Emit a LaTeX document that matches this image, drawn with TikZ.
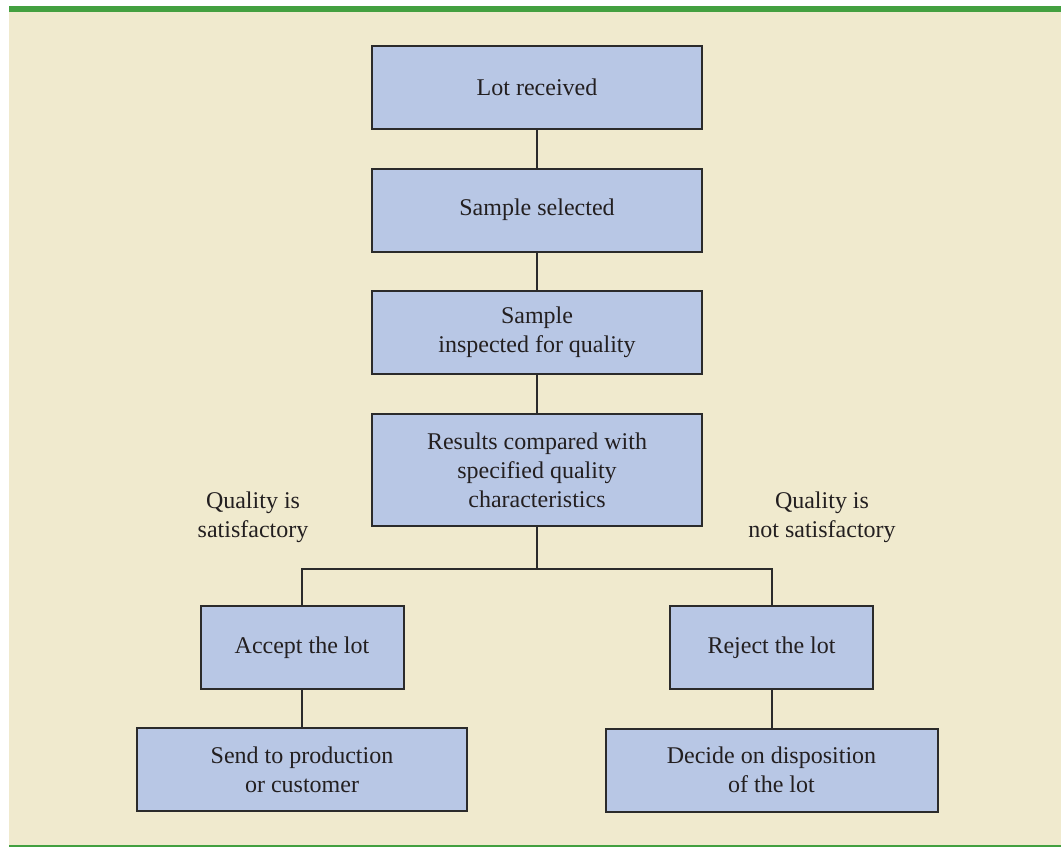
\documentclass[tikz,border=0pt]{standalone}
\usepackage{fontspec}
\setmainfont{Liberation Serif}
\definecolor{bgbeige}{HTML}{F0EACE}
\definecolor{bargreen}{HTML}{43A040}
\definecolor{boxfill}{HTML}{B8C7E5}
\definecolor{edge}{HTML}{2B2B2B}
\definecolor{ink}{HTML}{231F20}
\begin{document}
\begin{tikzpicture}[x=1pt,y=-1pt,
  flowbox/.style={draw=edge, fill=boxfill, line width=2pt, rectangle, align=center,
    text=ink, font=\fontsize{24}{29}\selectfont, inner sep=0pt},
  lbl/.style={align=center, text=ink, font=\fontsize{24}{29}\selectfont, inner sep=0pt},
  link/.style={draw=edge, line width=2pt}]
\useasboundingbox (0,0) rectangle (1061,847);
\fill[bgbeige] (9,12) rectangle (1061,845);
\fill[bargreen] (9,6) rectangle (1061,12);
\fill[bargreen] (9,845) rectangle (1061,847);

\node[flowbox, minimum width=330, minimum height=83] (b1) at (537,87.2) {Lot received};
\node[flowbox, minimum width=330, minimum height=83] (b2) at (537,210) {Sample selected};
\node[flowbox, minimum width=330, minimum height=83] (b3) at (537,332.5) {Sample\\inspected for quality};
\node[flowbox, minimum width=330, minimum height=112] (b4) at (537,470) {Results compared with\\specified quality\\characteristics};
\node[flowbox, minimum width=203, minimum height=83] (acc) at (302,647.5) {Accept the lot};
\node[flowbox, minimum width=203, minimum height=83] (rej) at (771.5,647.5) {Reject the lot};
\node[flowbox, minimum width=330, minimum height=83] (send) at (302,769.8) {Send to production\\or customer};
\node[flowbox, minimum width=332, minimum height=83] (dec) at (771.5,770) {Decide on disposition\\of the lot};

\node[lbl] (ql) at (253,517) {Quality is\\satisfactory};
\node[lbl] (qr) at (822,517) {Quality is\\not satisfactory};

\coordinate (split) at (537,568.5);
\draw[link] (b1) -- (b2);
\draw[link] (b2) -- (b3);
\draw[link] (b3) -- (b4);
\draw[link] (b4) -- (split);
\draw[link] (acc.north) |- (split) -| (rej.north);
\draw[link] (acc) -- (send);
\draw[link] (rej) -- (dec);
\end{tikzpicture}
\end{document}
